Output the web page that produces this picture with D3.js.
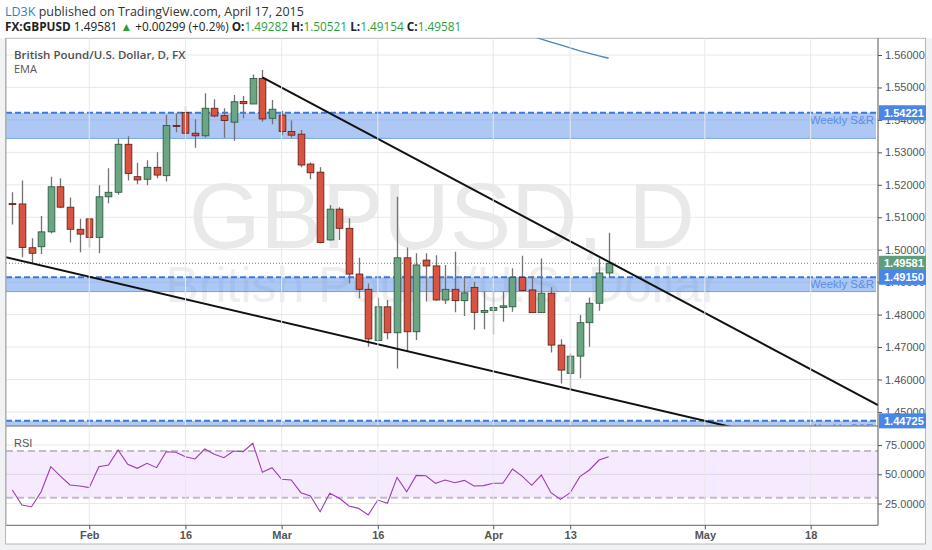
<!DOCTYPE html>
<html>
<head>
<meta charset="utf-8">
<script src="https://cdn.jsdelivr.net/npm/d3@7"></script>
<style>
  html, body { margin: 0; padding: 0; background: #fff; }
  svg { display: block; }
  .axis text { font-family: "Liberation Sans", Arial, sans-serif; font-size: 11px; fill: #555; }
  .axis line, .axis path { stroke: #555; }
</style>
</head>
<body>
<div id="chart"></div>
<script>
// GBPUSD daily candles, 21 Jan - 17 Apr 2015 (trading days only)
const dates = [
  "2015-01-21", "2015-01-22", "2015-01-23", "2015-01-26", "2015-01-27", "2015-01-28", "2015-01-29", "2015-01-30",
  "2015-02-02", "2015-02-03", "2015-02-04", "2015-02-05", "2015-02-06", "2015-02-09", "2015-02-10", "2015-02-11",
  "2015-02-12", "2015-02-13", "2015-02-16", "2015-02-17", "2015-02-18", "2015-02-19", "2015-02-20", "2015-02-23",
  "2015-02-24", "2015-02-25", "2015-02-26", "2015-02-27", "2015-03-02", "2015-03-03", "2015-03-04", "2015-03-05",
  "2015-03-06", "2015-03-09", "2015-03-10", "2015-03-11", "2015-03-12", "2015-03-13", "2015-03-16", "2015-03-17",
  "2015-03-18", "2015-03-19", "2015-03-20", "2015-03-23", "2015-03-24", "2015-03-25", "2015-03-26", "2015-03-27",
  "2015-03-30", "2015-03-31", "2015-04-01", "2015-04-02", "2015-04-03", "2015-04-06", "2015-04-07", "2015-04-08",
  "2015-04-09", "2015-04-10", "2015-04-13", "2015-04-14", "2015-04-15", "2015-04-16", "2015-04-17"
];
const opens = [
  1.5142, 1.5141, 1.5006, 1.5009, 1.5055, 1.5194, 1.5131, 1.5063,
  1.5095, 1.5038, 1.5163, 1.5177, 1.5325, 1.5225, 1.5217, 1.5254,
  1.5228, 1.5383, 1.5423, 1.5359, 1.5351, 1.5436, 1.5413, 1.5393,
  1.5457, 1.5449, 1.5528, 1.5405, 1.5415, 1.5364, 1.5356, 1.5264,
  1.5239, 1.5030, 1.5125, 1.5066, 1.4925, 1.4878, 1.4720, 1.4824,
  1.4744, 1.4975, 1.4747, 1.4968, 1.4950, 1.4845, 1.4878, 1.4843,
  1.4884, 1.4807, 1.4813, 1.4822, 1.4824, 1.4915, 1.4876, 1.4806,
  1.4866, 1.4706, 1.4619, 1.4672, 1.4775, 1.4835, 1.49282
];
const highs = [
  1.5177, 1.5213, 1.5035, 1.5104, 1.5225, 1.5220, 1.5161, 1.5095,
  1.5097, 1.5199, 1.5251, 1.5343, 1.5350, 1.5268, 1.5276, 1.5300,
  1.5415, 1.5420, 1.5441, 1.5402, 1.5482, 1.5464, 1.5436, 1.5477,
  1.5474, 1.5540, 1.5554, 1.5461, 1.5428, 1.5398, 1.5369, 1.5269,
  1.5254, 1.5138, 1.5131, 1.5097, 1.4975, 1.4896, 1.4852, 1.4845,
  1.5163, 1.5007, 1.4989, 1.4989, 1.4983, 1.4953, 1.4994, 1.4919,
  1.4901, 1.4871, 1.4871, 1.4871, 1.4943, 1.4981, 1.4919, 1.4973,
  1.4884, 1.4724, 1.4681, 1.4799, 1.4853, 1.4973, 1.50521
];
const lows = [
  1.5078, 1.4977, 1.4958, 1.4987, 1.5050, 1.5128, 1.5022, 1.4992,
  1.5007, 1.4989, 1.5143, 1.5169, 1.5213, 1.5202, 1.5199, 1.5220,
  1.5210, 1.5362, 1.5340, 1.5314, 1.5346, 1.5408, 1.5345, 1.5336,
  1.5405, 1.5449, 1.5394, 1.5387, 1.5353, 1.5346, 1.5254, 1.5217,
  1.5020, 1.5028, 1.5030, 1.4896, 1.4850, 1.4701, 1.4718, 1.4724,
  1.4634, 1.4686, 1.4722, 1.4840, 1.4843, 1.4833, 1.4807, 1.4796,
  1.4753, 1.4755, 1.4739, 1.4778, 1.4809, 1.4874, 1.4806, 1.4806,
  1.4683, 1.4588, 1.4568, 1.4604, 1.4701, 1.4812, 1.49154
];
const closes = [
  1.5140, 1.5007, 1.4989, 1.5055, 1.5194, 1.5131, 1.5063, 1.5048,
  1.5038, 1.5163, 1.5177, 1.5325, 1.5235, 1.5215, 1.5254, 1.5230,
  1.5383, 1.5380, 1.5359, 1.5351, 1.5436, 1.5412, 1.5398, 1.5456,
  1.5450, 1.5528, 1.5403, 1.5433, 1.5364, 1.5353, 1.5261, 1.5237,
  1.5022, 1.5125, 1.5066, 1.4925, 1.4878, 1.4725, 1.4824, 1.4744,
  1.4975, 1.4747, 1.4953, 1.4950, 1.4845, 1.4878, 1.4843, 1.4867,
  1.4807, 1.4813, 1.4822, 1.4827, 1.4915, 1.4874, 1.4806, 1.4866,
  1.4706, 1.4629, 1.4672, 1.4775, 1.4835, 1.49282, 1.49581
];
const rsi = [
  36.6, 23.8, 22.3, 35.1, 56.5, 48.5, 40.9, 40.0,
  38.6, 56.5, 58.0, 70.8, 58.5, 55.1, 59.4, 55.7,
  69.3, 68.8, 65.0, 63.1, 71.6, 67.1, 64.2, 69.9,
  69.3, 76.5, 51.7, 55.7, 45.7, 45.1, 34.3, 31.5,
  18.0, 33.8, 29.5, 22.9, 20.9, 15.2, 28.0, 25.2,
  47.4, 35.1, 49.1, 48.8, 42.3, 45.1, 42.8, 44.8,
  40.0, 40.3, 42.3, 42.3, 54.5, 48.5, 40.6, 49.4,
  34.3, 28.6, 34.3, 48.0, 53.7, 62.2, 65.0
];
// the visible tail of the long EMA (the rest sits above the price range)
const emaDates = ["2015-04-06", "2015-04-07", "2015-04-08", "2015-04-09", "2015-04-10", "2015-04-13", "2015-04-14", "2015-04-15", "2015-04-16", "2015-04-17"];
const emaValues = [1.5667, 1.5658, 1.5649, 1.5640, 1.5631, 1.5622, 1.5613, 1.5605, 1.5597, 1.5590];

// drawn objects
const trendUpper = [["2015-02-26", 1.5531], ["2015-05-27", 1.4521]];
const trendLower = [["2015-01-20", 1.4979], ["2015-05-11", 1.4431]];
const srBands = [[1.5343, 1.54221], [1.4871, 1.49150], [1.4400, 1.44725]];
const lastPrice = 1.49581;

const priceTicks = [1.45, 1.46, 1.47, 1.48, 1.49, 1.50, 1.51, 1.52, 1.53, 1.54, 1.55, 1.56];
const rsiTicks = [25, 50, 75];
const rsiBand = [30, 70];
const xTickDates = ["2015-02-02", "2015-02-16", "2015-03-02", "2015-03-16", "2015-04-01", "2015-04-13", "2015-05-01", "2015-05-18"];
const xTickLabels = ["Feb", "16", "Mar", "16", "Apr", "13", "May", "18"];

const W = 932, H = 550;
const L = 6, R = 878, T = 38.3, MB = 425.7, RT = 426, RB = 525.3;
const col = {
  up: '#6ba583', down: '#d75442', upBorder: '#225437', downBorder: '#5b1a13', wick: '#737375',
  grid: '#e8e8e8', band: '#4a86e8', bandLine: '#3c78d8', srText: '#5b8de6', rsi: '#9c3bb5'
};

// trading-day index, counted from the first candle
const parse = d3.utcParse('%Y-%m-%d');
const day0 = parse(dates[0]);
const isWeekday = d => d.getUTCDay() !== 0 && d.getUTCDay() !== 6;
function dayIndex(s) {
  const d = parse(s);
  if (d >= day0) return d3.utcDays(day0, d).filter(isWeekday).length;
  return -d3.utcDays(d, day0).filter(isWeekday).length;
}

const candles = dates.map((d, i) => ({
  i: dayIndex(d), o: opens[i], h: highs[i], l: lows[i], c: closes[i], r: rsi[i]
}));

const x = d3.scaleLinear().domain([-0.655, 90]).range([L, R]);
const y = d3.scaleLinear().domain([1.44576, 1.56515]).range([MB, T]);
const yR = d3.scaleLinear().domain([6.4, 91.3]).range([RB, RT]);

const svg = d3.select('#chart').append('svg')
  .attr('width', W).attr('height', H);

// page + frame
svg.append('rect').attr('width', W).attr('height', H).attr('fill', '#f0f2f4');
svg.append('rect').attr('x', 0).attr('y', 0).attr('width', W).attr('height', T).attr('fill', '#fff');
svg.append('rect').attr('x', 5.5).attr('y', T).attr('width', 920).attr('height', 544 - T)
  .attr('fill', '#fff').attr('stroke', '#b8b8b8');

// header
const header = svg.append('g').style('font-family', '"Open Sans", sans-serif');
const h1 = header.append('text').attr('x', 5).attr('y', 16).attr('fill', '#333').style('font-size', '12.5px');
h1.append('tspan').attr('fill', '#1f86c8').text('LD3K');
h1.append('tspan').text(' published on TradingView.com, April 17, 2015');
const h2 = header.append('text').attr('x', 5).attr('y', 31).attr('fill', '#222').style('font-size', '11.8px');
const green = '#2f9e3a';
[
  ['FX:GBPUSD', '#222', 'bold'], [' 1.49581 ', '#222', 'normal'], ['\u25B2', green, 'normal'],
  [' +0.00299 (+0.2%) ', '#222', 'normal'],
  ['O:', '#222', 'bold'], ['1.49282 ', green, 'normal'],
  ['H:', '#222', 'bold'], ['1.50521 ', green, 'normal'],
  ['L:', '#222', 'bold'], ['1.49154 ', green, 'normal'],
  ['C:', '#222', 'bold'], ['1.49581', green, 'normal']
].forEach(([t, c, w]) => h2.append('tspan').attr('fill', c).attr('font-weight', w).text(t));

// clips
const defs = svg.append('defs');
defs.append('clipPath').attr('id', 'clipMain').append('rect')
  .attr('x', L).attr('y', T).attr('width', R - L).attr('height', MB - T);
defs.append('clipPath').attr('id', 'clipRsi').append('rect')
  .attr('x', L).attr('y', RT).attr('width', R - L).attr('height', RB - RT);

const main = svg.append('g').attr('clip-path', 'url(#clipMain)');
const low = svg.append('g').attr('clip-path', 'url(#clipRsi)');

// watermark
main.append('text').attr('x', (L + R) / 2).attr('y', 248).attr('text-anchor', 'middle')
  .style('font-family', '"Liberation Sans", Arial, sans-serif').style('font-size', '92px')
  .attr('fill', '#e9e9e9').text('GBPUSD, D');
main.append('text').attr('x', (L + R) / 2).attr('y', 302).attr('text-anchor', 'middle')
  .style('font-family', '"Liberation Sans", Arial, sans-serif').style('font-size', '50px')
  .attr('fill', '#eeeeee').text('British Pound/U.S. Dollar');

// grids
const xTicks = xTickDates.map(dayIndex);
svg.append('g').selectAll('line').data(xTicks).enter().append('line')
  .attr('x1', d => x(d)).attr('x2', d => x(d)).attr('y1', T).attr('y2', RB)
  .attr('stroke', col.grid);
main.append('g').selectAll('line').data(priceTicks).enter().append('line')
  .attr('x1', L).attr('x2', R).attr('y1', d => y(d)).attr('y2', d => y(d))
  .attr('stroke', col.grid);
low.append('g').selectAll('line').data(rsiTicks).enter().append('line')
  .attr('x1', L).attr('x2', R).attr('y1', d => yR(d)).attr('y2', d => yR(d))
  .attr('stroke', col.grid);

// weekly S&R bands
const bands = main.append('g');
srBands.forEach(([lo, hi]) => {
  bands.append('rect').attr('x', L).attr('width', R - L - 2)
    .attr('y', y(hi)).attr('height', y(lo) - y(hi))
    .attr('fill', col.band).attr('fill-opacity', 0.45);
  bands.append('line').attr('x1', L).attr('x2', R - 2).attr('y1', y(lo)).attr('y2', y(lo))
    .attr('stroke', col.band).attr('stroke-opacity', 0.7);
  bands.append('line').attr('x1', L).attr('x2', R).attr('y1', y(hi)).attr('y2', y(hi))
    .attr('stroke', col.bandLine).attr('stroke-width', 2).attr('stroke-dasharray', '6,3');
  bands.append('text').attr('x', R - 4).attr('y', y(hi) + 11).attr('text-anchor', 'end')
    .style('font-family', '"Liberation Sans", Arial, sans-serif').style('font-size', '11.5px')
    .attr('fill', col.srText).text('Weekly S&R');
});

// last price line
main.append('line').attr('x1', L).attr('x2', R).attr('y1', y(lastPrice)).attr('y2', y(lastPrice))
  .attr('stroke', '#4f9a6a').attr('stroke-dasharray', '1,2');

// EMA
main.append('path')
  .datum(emaDates.map((d, i) => [dayIndex(d), emaValues[i]]))
  .attr('fill', 'none').attr('stroke', '#4a87b8').attr('stroke-width', 1.3)
  .attr('d', d3.line().x(d => x(d[0])).y(d => y(d[1])));

// candles
const bw = (x(1) - x(0)) * 0.7;
const cg = main.append('g');
cg.selectAll('.wick').data(candles).enter().append('line')
  .attr('x1', d => Math.round(x(d.i)) + 0.5).attr('x2', d => Math.round(x(d.i)) + 0.5)
  .attr('y1', d => y(d.h)).attr('y2', d => y(d.l))
  .attr('stroke', col.wick).attr('stroke-width', 1.3);
cg.selectAll('.body').data(candles).enter().append('rect')
  .attr('x', d => Math.round(x(d.i)) + 0.5 - bw / 2)
  .attr('y', d => y(Math.max(d.o, d.c)))
  .attr('width', bw)
  .attr('height', d => Math.max(1, Math.abs(y(d.o) - y(d.c))))
  .attr('fill', d => d.c >= d.o ? col.up : col.down)
  .attr('stroke', d => d.c >= d.o ? col.upBorder : col.downBorder)
  .attr('stroke-width', 0.8);

// trend lines
[trendUpper, trendLower].forEach(t => {
  main.append('line')
    .attr('x1', x(dayIndex(t[0][0]))).attr('y1', y(t[0][1]))
    .attr('x2', x(dayIndex(t[1][0]))).attr('y2', y(t[1][1]))
    .attr('stroke', '#111').attr('stroke-width', 2);
});

// RSI panel
low.append('rect').attr('x', L).attr('width', R - L)
  .attr('y', yR(rsiBand[1])).attr('height', yR(rsiBand[0]) - yR(rsiBand[1]))
  .attr('fill', '#9915ff').attr('fill-opacity', 0.09);
rsiBand.forEach(v => {
  low.append('line').attr('x1', L).attr('x2', R).attr('y1', yR(v)).attr('y2', yR(v))
    .attr('stroke', '#c3bcc6').attr('stroke-width', 2).attr('stroke-dasharray', '7,4');
});
low.append('path').datum(candles)
  .attr('fill', 'none').attr('stroke', col.rsi).attr('stroke-width', 1.1)
  .attr('d', d3.line().x(d => x(d.i)).y(d => yR(d.r)));

// panel labels
const lab = svg.append('g').style('font-family', '"Open Sans", sans-serif').attr('fill', '#555');
lab.append('text').attr('x', 14).attr('y', 59).style('font-size', '11.5px').attr('font-weight', 600)
  .attr('fill', '#505050').text('British Pound/U.S. Dollar, D, FX');
lab.append('text').attr('x', 14).attr('y', 73).style('font-size', '11px').text('EMA');
lab.append('text').attr('x', 14).attr('y', 447).style('font-size', '11px')
  .style('font-family', '"Liberation Sans", Arial, sans-serif').text('RSI');

// separators
svg.append('line').attr('x1', L).attr('x2', R).attr('y1', MB + 0.3).attr('y2', MB + 0.3).attr('stroke', '#666');
svg.append('line').attr('x1', L).attr('x2', R).attr('y1', RB).attr('y2', RB).attr('stroke', '#666');
svg.append('line').attr('x1', L).attr('x2', L).attr('y1', T).attr('y2', RB).attr('stroke', '#aaa');

// axes
const pAxis = svg.append('g').attr('class', 'axis').attr('transform', `translate(${R},0)`)
  .call(d3.axisRight(y).tickValues(priceTicks).tickFormat(d3.format('.5f')).tickSize(4).tickSizeOuter(0).tickPadding(3));
pAxis.select('.domain').attr('d', `M0,${T}V${MB}`);
const rAxis = svg.append('g').attr('class', 'axis').attr('transform', `translate(${R},0)`)
  .call(d3.axisRight(yR).tickValues(rsiTicks).tickFormat(d3.format('.4f')).tickSize(4).tickSizeOuter(0).tickPadding(3));
rAxis.select('.domain').attr('d', `M0,${MB}V${RB}`);
const xAxis = svg.append('g').attr('class', 'axis').attr('transform', `translate(0,${RB})`)
  .call(d3.axisBottom(x).tickValues(xTicks).tickFormat((d, i) => xTickLabels[i]).tickSize(4).tickSizeOuter(0).tickPadding(2));
xAxis.select('.domain').remove();
xAxis.selectAll('text').attr('font-weight', 'bold');

// price tags on the scale
const tags = [[1.54221, '#4a86e8'], [lastPrice, '#5f9e7b'], [1.49150, '#4a86e8'], [1.44725, '#4a86e8']];
const tg = svg.append('g');
tags.forEach(([v, c]) => {
  tg.append('rect').attr('x', R + 1).attr('y', y(v) - 7.5).attr('width', 47).attr('height', 15).attr('fill', c);
  tg.append('text').attr('x', R + 6).attr('y', y(v) + 4)
    .style('font-family', '"Liberation Sans", Arial, sans-serif').style('font-size', '11px')
    .attr('font-weight', 'bold').attr('fill', '#fff').text(d3.format('.5f')(v));
});
</script>
</body>
</html>
